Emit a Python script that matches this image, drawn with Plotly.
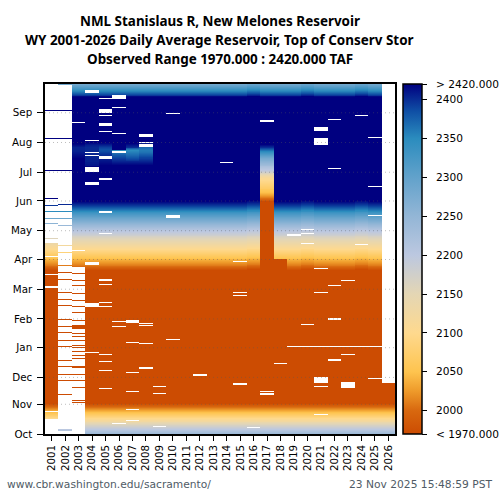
import plotly.graph_objects as go

YEARS = list(range(2001, 2027))
MONTH_LABELS = ["Oct", "Nov", "Dec", "Jan", "Feb", "Mar", "Apr", "May", "Jun", "Jul", "Aug", "Sep"]
MONTH_DAYS = [0, 31, 59, 90, 120, 151, 182, 212, 243, 273, 304, 335]
BAR_VALUES = [1970, 2000, 2050, 2100, 2150, 2200, 2250, 2300, 2350, 2400, 2420]
BAR_LABELS = ["< 1970.000", "2000", "2050", "2100", "2150", "2200", "2250", "2300", "2350", "2400", "> 2420.000"]

# Typical top of conservation storage by water-year day (TAF)
OCT_DROP = [2235, 2226, 2218, 2209, 2201, 2192, 2184, 2175, 2167, 2158, 2150, 2141, 2133, 2124, 2116, 2107,
            2099, 2090, 2082, 2073, 2065, 2056, 2048, 2039, 2031, 2022, 2014, 2005, 1997, 1988, 1980]
WINTER = [1970] * 140
SPRING_RISE = [1978, 1986, 1994, 2002, 2010, 2015, 2020, 2025, 2030, 2035, 2040,
               2045, 2050, 2056, 2061, 2067, 2072, 2078, 2083, 2089, 2094, 2100,
               2105, 2110, 2116, 2121, 2126, 2132, 2137, 2142, 2148, 2153, 2158, 2163, 2169, 2174, 2179, 2185, 2190, 2195, 2200,
               2207, 2214, 2221, 2228, 2235, 2242, 2249, 2256, 2263, 2270, 2277, 2284, 2291,
               2298, 2306, 2313, 2321, 2328, 2336, 2343, 2350,
               2358, 2366, 2374, 2382, 2390, 2396, 2402, 2408, 2414, 2420]
SUMMER = [2420] * 107
SEP_DROP = [2420, 2415, 2405, 2395, 2385, 2375, 2365, 2355, 2345, 2335, 2325, 2315, 2305, 2295, 2285]
TYPICAL = OCT_DROP + WINTER + SPRING_RISE + SUMMER + SEP_DROP

SHIFTED_YEARS = [2016, 2020, 2024]

# 2017: late rise
RISE_2017_START = 243
RISE_2017 = [1985, 1995, 2003, 2012, 2020, 2028, 2035, 2042, 2048, 2052, 2056, 2060, 2064, 2068, 2072, 2076, 2080,
             2084, 2088, 2092, 2096, 2100, 2104, 2108, 2115, 2125, 2137, 2150, 2163, 2176, 2188, 2195, 2202, 2208,
             2215, 2221, 2228, 2234, 2241, 2247, 2254, 2260, 2267, 2273, 2280, 2290, 2300, 2310, 2320, 2330, 2340,
             2352, 2364, 2376, 2388, 2400, 2407, 2414]
# 2017 and 2018 hold low into spring
HOLD_2017 = (31, 243)
HOLD_2018 = (31, 182)

# Early-summer dips
DIP_START = 280
DIP_2003 = [2420, 2420, 2420, 2420, 2420, 2420, 2420, 2420, 2418, 2416, 2414, 2412, 2410, 2408, 2406, 2405, 2405, 2405, 2405, 2410, 2414, 2418, 2420]
DIP_2004 = [2410, 2410, 2408, 2408, 2406, 2406, 2405, 2405, 2404, 2404, 2404, 2404, 2403, 2403, 2402, 2402, 2402, 2402, 2402, 2404, 2406, 2410, 2415]
DIP_2005 = [2420, 2418, 2416, 2414, 2412, 2410, 2408, 2406, 2404, 2402, 2400, 2397, 2394, 2390, 2386, 2384, 2384, 2388, 2392, 2398, 2404, 2410, 2416]
DIP_2006 = [2420, 2416, 2412, 2408, 2404, 2400, 2396, 2392, 2388, 2384, 2380, 2374, 2368, 2362, 2356, 2350, 2420, 2420, 2420, 2420, 2420, 2420, 2420]
DIP_2007 = [2420, 2416, 2412, 2408, 2404, 2395, 2390, 2385, 2380, 2375, 2370, 2366, 2362, 2358, 2354, 2350, 2360, 2375, 2400, 2405, 2410, 2415, 2420]
DIP_2008 = [2420, 2416, 2412, 2408, 2404, 2400, 2396, 2392, 2390, 2385, 2380, 2375, 2370, 2365, 2362, 2360, 2362, 2366, 2370, 2380, 2390, 2400, 2410]

# Days with data in the sparsely observed years (first, end)
COVER_2001 = [(16, 199), (203, 204), (219, 220), (224, 225), (232, 233), (238, 239), (245, 246), (274, 275), (308, 309), (337, 338)]
COVER_2002 = [(3, 5), (41, 42), (55, 56), (62, 63), (70, 71), (76, 77), (85, 86), (91, 92), (97, 98), (105, 106), (112, 113), (119, 120),
              (134, 135), (140, 141), (147, 148), (161, 162), (168, 169), (175, 176), (182, 183), (189, 190), (196, 197),
              (217, 218), (224, 225), (232, 233), (239, 240), (274, 275), (308, 309), (337, 338), (364, 365)]
COVER_2003 = [(32, 33), (34, 35), (48, 49), (55, 56), (62, 63), (69, 71), (78, 79), (81, 82), (86, 87), (90, 91), (92, 93), (97, 98), (101, 102),
              (104, 105), (110, 114), (118, 119), (126, 127), (132, 133), (139, 140), (146, 147), (154, 155), (160, 161), (167, 168), (174, 365)]
COVER_2026 = [(0, 53)]

# Missing days in the better observed years (first, end)
GAPS_2001 = [(23, 24), (152, 154), (166, 167), (185, 186)]
GAPS_2003 = [(84, 85), (191, 192), (324, 325)]
GAPS_2004 = [(84, 85), (132, 133), (134, 137), (176, 179), (231, 232), (260, 263), (273, 278), (290, 291), (293, 294), (306, 307), (356, 359)]
GAPS_2005 = [(12, 13), (47, 48), (66, 67), (75, 76), (82, 83), (132, 133), (137, 138), (155, 156), (160, 162), (209, 210), (230, 233), (265, 267),
             (287, 290), (315, 316), (321, 322), (322, 324), (332, 333), (335, 336), (336, 339), (349, 350)]
GAPS_2006 = [(10, 11), (112, 113), (117, 118), (293, 295), (313, 314), (340, 341), (349, 352), (353, 354)]
GAPS_2007 = [(14, 15), (25, 26), (44, 45), (64, 65), (95, 96), (109, 110), (116, 119)]
GAPS_2008 = [(68, 70), (94, 95), (113, 114), (115, 116), (299, 302), (303, 304), (310, 313)]
GAPS_2009 = [(7, 8), (42, 43), (49, 50)]
GAPS_2010 = [(98, 99), (225, 228), (334, 335)]
GAPS_2012 = [(61, 63)]
GAPS_2014 = [(283, 284)]
GAPS_2015 = [(51, 53), (144, 145), (147, 148), (179, 180)]
GAPS_2016 = [(6, 7)]
GAPS_2017 = [(41, 43), (44, 45), (325, 327)]
GAPS_2018 = [(73, 74)]
GAPS_2019 = [(91, 92), (207, 209)]
GAPS_2020 = [(91, 92), (114, 115), (198, 199), (209, 210), (213, 214)]
GAPS_2021 = [(20, 21), (49, 50), (53, 59), (91, 92), (147, 148), (172, 173), (301, 309), (316, 320)]
GAPS_2022 = [(76, 78), (91, 92), (119, 121), (154, 155), (276, 277), (327, 328)]
GAPS_2023 = [(48, 54), (82, 83), (91, 92), (160, 161)]
GAPS_2024 = [(91, 92), (197, 198), (332, 333)]
GAPS_2025 = [(57, 58), (91, 92), (227, 228), (258, 259), (309, 310)]

GAPS = {2001: GAPS_2001, 2003: GAPS_2003, 2004: GAPS_2004, 2005: GAPS_2005, 2006: GAPS_2006, 2007: GAPS_2007, 2008: GAPS_2008,
        2009: GAPS_2009, 2010: GAPS_2010, 2012: GAPS_2012, 2014: GAPS_2014, 2015: GAPS_2015, 2016: GAPS_2016, 2017: GAPS_2017,
        2018: GAPS_2018, 2019: GAPS_2019, 2020: GAPS_2020, 2021: GAPS_2021, 2022: GAPS_2022, 2023: GAPS_2023, 2024: GAPS_2024, 2025: GAPS_2025}
COVER = {2001: COVER_2001, 2002: COVER_2002, 2003: COVER_2003, 2026: COVER_2026}
DIPS = {2003: DIP_2003, 2004: DIP_2004, 2005: DIP_2005, 2006: DIP_2006, 2007: DIP_2007, 2008: DIP_2008}

N = len(TYPICAL)
columns = {}
for yr in YEARS:
    col = list(TYPICAL)
    if yr in SHIFTED_YEARS:
        col = TYPICAL[:150] + TYPICAL[149:N - 1]
    if yr in DIPS:
        col[DIP_START:DIP_START + len(DIPS[yr])] = DIPS[yr]
    if yr == 2017:
        col[HOLD_2017[0]:HOLD_2017[1]] = [1970] * (HOLD_2017[1] - HOLD_2017[0])
        col[RISE_2017_START:RISE_2017_START + len(RISE_2017)] = RISE_2017
    if yr == 2018:
        col[HOLD_2018[0]:HOLD_2018[1]] = [1970] * (HOLD_2018[1] - HOLD_2018[0])
    if yr in COVER:
        keep = [False] * N
        for a, b in COVER[yr]:
            for d in range(a, b):
                keep[d] = True
        col = [v if k else None for v, k in zip(col, keep)]
    for a, b in GAPS.get(yr, []):
        for d in range(a, b):
            col[d] = None
    columns[yr] = col

z = [[columns[yr][d] for yr in YEARS] for d in range(N)]

ZMIN, ZMAX = 1970, 2420
STOPS = [(1970, "#CC4C02"), (2000, "#D8680F"), (2025, "#EE9A2A"), (2050, "#FEC44F"), (2100, "#FED98E"),
         (2150, "#E4D6B4"), (2200, "#BCC8E0"), (2250, "#93B6D6"), (2300, "#62A2CB"), (2350, "#2B8CBE"),
         (2385, "#0F4FA5"), (2420, "#000080")]
colorscale = [[(v - ZMIN) / (ZMAX - ZMIN), c] for v, c in STOPS]

LABEL_PAD = "\u00a0\u00a0"

fig = go.Figure(go.Heatmap(
    x=YEARS, y=[d + 0.5 for d in range(N)], z=z,
    zmin=ZMIN, zmax=ZMAX, colorscale=colorscale, hoverongaps=False,
    colorbar=dict(
        x=(403 - 44.6) / 350.7, xanchor="left", y=0, yanchor="bottom", len=1, lenmode="fraction",
        thickness=18.5, thicknessmode="pixels", xpad=0, ypad=0,
        outlinewidth=1.5, outlinecolor="black",
        tickmode="array", tickvals=BAR_VALUES, ticktext=[LABEL_PAD + t for t in BAR_LABELS],
        ticks="outside", ticklen=5, tickcolor="black", tickwidth=1,
        tickfont=dict(family="DejaVu Sans", size=10.6, color="black"),
    ),
))

grid = [dict(type="line", xref="paper", x0=0, x1=1, yref="y", y0=d, y1=d, layer="above",
             line=dict(color="rgba(90,90,90,0.4)", width=1, dash="1px,3px"))
        for d in MONTH_DAYS[1:]]

title_font = dict(family="Noto Sans", size=13.45, color="black")
TITLE_LINES = ["<b>NML Stanislaus R, New Melones Reservoir</b>",
               "<b>WY 2001-2026 Daily Average Reservoir, Top of Conserv Stor</b>",
               "<b>Observed Range 1970.000 : 2420.000 TAF</b>"]
notes = []
for t, yy in zip(TITLE_LINES, [20, 39, 58]):
    notes.append(dict(text=t, x=(219.5 - 44.6) / 350.7, xref="paper", xanchor="center",
                      y=(434 - yy) / 350.5, yref="paper", yanchor="middle", showarrow=False, font=title_font))
foot = dict(family="DejaVu Sans", size=10.7, color="#4F5B66")
notes.append(dict(text="www.cbr.washington.edu/sacramento/", x=(5 - 44.6) / 350.7, xref="paper", xanchor="left",
                  y=(434 - 485) / 350.5, yref="paper", yanchor="middle", showarrow=False, font=foot))
notes.append(dict(text="23 Nov 2025 15:48:59 PST", x=(494 - 44.6) / 350.7, xref="paper", xanchor="right",
                  y=(434 - 485) / 350.5, yref="paper", yanchor="middle", showarrow=False, font=foot))

fig.update_layout(
    width=500, height=500, margin=dict(l=44.6, r=104.7, t=83.5, b=66, pad=0, autoexpand=False),
    plot_bgcolor="white", paper_bgcolor="white", shapes=grid, annotations=notes,
    xaxis=dict(range=[2000.5, 2026.5], tickmode="array", tickvals=YEARS, ticktext=[str(y) for y in YEARS],
               tickangle=-90, ticks="outside", ticklen=5, tickcolor="black", tickwidth=1, showgrid=False, zeroline=False,
               showline=True, mirror=True, linecolor="black", linewidth=1.5,
               tickfont=dict(family="DejaVu Sans", size=10.3, color="black")),
    yaxis=dict(range=[0, N], tickmode="array", tickvals=MONTH_DAYS, ticktext=MONTH_LABELS,
               ticks="outside", ticklen=6, tickcolor="black", tickwidth=1, showgrid=False, zeroline=False,
               ticklabelstandoff=3,
               showline=True, mirror=True, linecolor="black", linewidth=1.5,
               tickfont=dict(family="DejaVu Sans", size=10.3, color="black")),
)

fig.write_html("out.html", config={"displayModeBar": False},
               post_script="document.body.style.margin='0';")
